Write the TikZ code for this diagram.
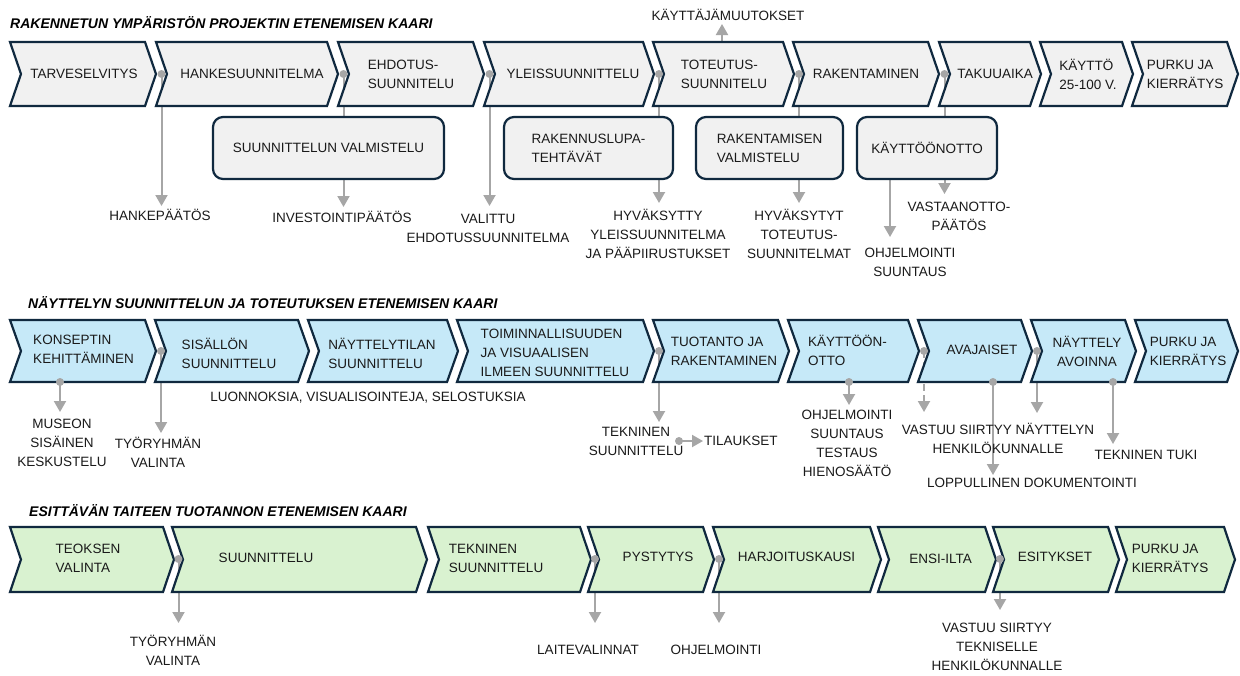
\documentclass[tikz,border=0pt]{standalone}
\usepackage{fontspec}
\setmainfont{Liberation Sans}
\usetikzlibrary{arrows.meta}
\definecolor{chevline}{HTML}{10293F}
\definecolor{rowA}{HTML}{F1F1F1}
\definecolor{rowB}{HTML}{C6E9F8}
\definecolor{rowC}{HTML}{D9F2D0}
\definecolor{conngray}{HTML}{A6A6A6}
\definecolor{txt}{HTML}{1A1A1A}
\newcommand{\chevshape}[5]{%
  \pgfmathsetmacro{\cym}{(#3+#4)/2}%
  \pgfmathsetmacro{\cxa}{#1+11}%
  \pgfmathsetmacro{\cxb}{#2+11}%
  \filldraw[chev,fill=#5] (#1,#3) -- (#2,#3) -- (\cxb,\cym) -- (#2,#4) -- (#1,#4) -- (\cxa,\cym) -- cycle;}
\begin{document}
\begin{tikzpicture}[x=1pt,y=-1pt,
  chev/.style={draw=chevline, line width=2.2pt, line join=miter},
  lbl/.style={font=\fontsize{13.5}{19}\selectfont, text=txt, align=center, inner sep=0pt},
  lbll/.style={lbl, align=left},
  ttl/.style={font=\fontsize{14}{17}\selectfont\bfseries\itshape, text=black, anchor=base west, inner sep=0pt},
  rbox/.style={draw=chevline, line width=2.2pt, fill=rowA, rounded corners=10pt, lbll, minimum height=62pt},
  conn/.style={draw=conngray, line width=2pt, -{Triangle[width=12pt,length=11pt]}},
  connd/.style={conn, dash pattern=on 7pt off 4pt},
  dotfill/.style={fill=conngray}]
\fill[white] (0,0) rectangle (1240,675);
\useasboundingbox (0,0) rectangle (1240,675);

% ---------- titles ----------
\node[ttl] (t1) at (10,28) {RAKENNETUN YMPÄRISTÖN PROJEKTIN ETENEMISEN KAARI};
\node[ttl] (t2) at (28,308) {NÄYTTELYN SUUNNITTELUN JA TOTEUTUKSEN ETENEMISEN KAARI};
\node[ttl] (t3) at (29,516) {ESITTÄVÄN TAITEEN TUOTANNON ETENEMISEN KAARI};

% ---------- coordinates (dots and arrow tips) ----------
\coordinate (a1) at (161.5,74);  \coordinate (a1t) at (161.5,206);
\coordinate (a2) at (343.5,74);  \coordinate (a2t) at (343.5,207);
\coordinate (a3) at (489.5,74);  \coordinate (a3t) at (489.5,206);
\coordinate (a4) at (659,74);    \coordinate (a4t) at (659,203);
\coordinate (a5) at (799,74);    \coordinate (a5t) at (799,203);
\coordinate (a6) at (944.5,74);  \coordinate (a6t) at (944.5,194);
\coordinate (a7) at (890,179);   \coordinate (a7t) at (890,237);
\coordinate (a8) at (722,42);    \coordinate (a8t) at (722,24);

\coordinate (b1) at (60,382);    \coordinate (b1t) at (60,412);
\coordinate (b2) at (161,351);   \coordinate (b2t) at (161,433);
\coordinate (b3) at (659,351);   \coordinate (b3t) at (659,422);
\coordinate (b4) at (679,441);   \coordinate (b4t) at (703,441);
\coordinate (b5) at (849,382);   \coordinate (b5t) at (849,405);
\coordinate (b6) at (924,351);   \coordinate (b6t) at (924,412);
\coordinate (b7) at (993,382);   \coordinate (b7t) at (993,475);
\coordinate (b8) at (1037,351);  \coordinate (b8t) at (1037,413);
\coordinate (b9) at (1113,382);  \coordinate (b9t) at (1113,444);

\coordinate (c1) at (178.5,559); \coordinate (c1t) at (178.5,623);
\coordinate (c2) at (595,559);   \coordinate (c2t) at (595,623);
\coordinate (c3) at (719,559);   \coordinate (c3t) at (719,623);
\coordinate (c4) at (1000,559);  \coordinate (c4t) at (1000,610);

% ---------- connectors (behind shapes) ----------
\foreach \p in {a1,a2,a3,a4,a5,a6,a7,a8,b1,b2,b3,b4,b5,b7,b8,b9,c1,c2,c3,c4}
  \draw[conn] (\p) -- (\p t);
\draw[connd] (b6) -- (b6t);

% ---------- row 1 ----------
\chevshape{10}{145}{42}{106}{rowA}
\chevshape{156}{327}{42}{106}{rowA}
\chevshape{338}{473}{42}{106}{rowA}
\chevshape{484}{643}{42}{106}{rowA}
\chevshape{653}{783}{42}{106}{rowA}
\chevshape{793}{928}{42}{106}{rowA}
\chevshape{939}{1030}{42}{106}{rowA}
\chevshape{1040}{1122}{42}{106}{rowA}
\chevshape{1132}{1227}{42}{106}{rowA}
\node[lbl]  (r1n1) at (84,74) {TARVESELVITYS};
\node[lbl]  (r1n2) at (252,74) {HANKESUUNNITELMA};
\node[lbll] (r1n3) at (411,74) {EHDOTUS-\\SUUNNITELU};
\node[lbl]  (r1n4) at (573,74) {YLEISSUUNNITTELU};
\node[lbll] (r1n5) at (724,74) {TOTEUTUS-\\SUUNNITELU};
\node[lbl]  (r1n6) at (866,74) {RAKENTAMINEN};
\node[lbl]  (r1n7) at (995,74) {TAKUUAIKA};
\node[lbll] (r1n8) at (1088,74) {KÄYTTÖ\\25-100 V.};
\node[lbll] (r1n9) at (1185,74) {PURKU JA\\KIERRÄTYS};

\node[rbox, minimum width=231pt] (bx1) at (328.5,148) {SUUNNITTELUN VALMISTELU};
\node[rbox, minimum width=169pt] (bx2) at (588.5,148) {RAKENNUSLUPA-\\TEHTÄVÄT};
\node[rbox, minimum width=147pt] (bx3) at (769.5,148) {RAKENTAMISEN\\VALMISTELU};
\node[rbox, minimum width=140pt] (bx4) at (927,148) {KÄYTTÖÖNOTTO};

\node[lbl] (l1) at (160,215) {HANKEPÄÄTÖS};
\node[lbl] (l2) at (342,217) {INVESTOINTIPÄÄTÖS};
\node[lbl] (l3) at (488,228) {VALITTU\\EHDOTUSSUUNNITELMA};
\node[lbl] (l4) at (658,234) {HYVÄKSYTTY\\YLEISSUUNNITELMA\\JA PÄÄPIIRUSTUKSET};
\node[lbl] (l5) at (799,234) {HYVÄKSYTYT\\TOTEUTUS-\\SUUNNITELMAT};
\node[lbl] (l6) at (959,216.5) {VASTAANOTTO-\\PÄÄTÖS};
\node[lbl] (l7) at (910,262.5) {OHJELMOINTI\\SUUNTAUS};
\node[lbl] (l8) at (728,15) {KÄYTTÄJÄMUUTOKSET};

% ---------- row 2 ----------
\chevshape{10}{145}{320}{382}{rowB}
\chevshape{155}{298}{320}{382}{rowB}
\chevshape{308}{447}{320}{382}{rowB}
\chevshape{457}{643}{320}{382}{rowB}
\chevshape{653}{778}{320}{382}{rowB}
\chevshape{788}{908}{320}{382}{rowB}
\chevshape{918}{1021}{320}{382}{rowB}
\chevshape{1031}{1125}{320}{382}{rowB}
\chevshape{1135}{1227}{320}{382}{rowB}
\node[lbll] (r2n1) at (83.5,349) {KONSEPTIN\\KEHITTÄMINEN};
\node[lbll] (r2n2) at (229,353) {SISÄLLÖN\\SUUNNITTELU};
\node[lbll] (r2n3) at (382,353) {NÄYTTELYTILAN\\SUUNNITTELU};
\node[lbll] (r2n4) at (555,352.5) {TOIMINNALLISUUDEN\\JA VISUAALISEN\\ILMEEN SUUNNITTELU};
\node[lbll] (r2n5) at (724,351) {TUOTANTO JA\\RAKENTAMINEN};
\node[lbll] (r2n6) at (847.5,350.5) {KÄYTTÖÖN-\\OTTO};
\node[lbl]  (r2n7) at (982,350) {AVAJAISET};
\node[lbl]  (r2n8) at (1087,351) {NÄYTTELY\\AVOINNA};
\node[lbll] (r2n9) at (1188,351) {PURKU JA\\KIERRÄTYS};

\node[lbl] (m1) at (62,443) {MUSEON\\SISÄINEN\\KESKUSTELU};
\node[lbl] (m2) at (158,452.5) {TYÖRYHMÄN\\VALINTA};
\node[lbl] (m3) at (368,398) {LUONNOKSIA, VISUALISOINTEJA, SELOSTUKSIA};
\node[lbl] (m4) at (636,441) {TEKNINEN\\SUUNNITTELU};
\node[lbl, anchor=west] (m5) at (704,441) {TILAUKSET};
\node[lbl] (m6) at (847,443.5) {OHJELMOINTI\\SUUNTAUS\\TESTAUS\\HIENOSÄÄTÖ};
\node[lbl] (m7) at (998,438) {VASTUU SIIRTYY NÄYTTELYN\\HENKILÖKUNNALLE};
\node[lbl] (m8) at (1032,483) {LOPPULLINEN DOKUMENTOINTI};
\node[lbl] (m9) at (1146,455) {TEKNINEN TUKI};

% ---------- row 3 ----------
\chevshape{10}{163}{527}{592}{rowC}
\chevshape{172}{416}{527}{592}{rowC}
\chevshape{428}{580}{527}{592}{rowC}
\chevshape{588}{703}{527}{592}{rowC}
\chevshape{713}{870}{527}{592}{rowC}
\chevshape{878}{985}{527}{592}{rowC}
\chevshape{993}{1108}{527}{592}{rowC}
\chevshape{1116}{1224}{527}{592}{rowC}
\node[lbll] (r3n1) at (88,558.5) {TEOKSEN\\VALINTA};
\node[lbl]  (r3n2) at (266,558) {SUUNNITTELU};
\node[lbll] (r3n3) at (496,558) {TEKNINEN\\SUUNNITTELU};
\node[lbl]  (r3n4) at (658,557) {PYSTYTYS};
\node[lbl]  (r3n5) at (796.5,557) {HARJOITUSKAUSI};
\node[lbl]  (r3n6) at (940.5,559) {ENSI-ILTA};
\node[lbl]  (r3n7) at (1055,557) {ESITYKSET};
\node[lbll] (r3n8) at (1170,558) {PURKU JA\\KIERRÄTYS};

\node[lbl] (n1) at (173,650.5) {TYÖRYHMÄN\\VALINTA};
\node[lbl] (n2) at (588,650) {LAITEVALINNAT};
\node[lbl] (n3) at (716,650) {OHJELMOINTI};
\node[lbl] (n4) at (997,646.5) {VASTUU SIIRTYY\\TEKNISELLE\\HENKILÖKUNNALLE};

% ---------- dots on top ----------
\foreach \p in {a1,a2,a3,a4,a5,a6,b1,b2,b3,b4,b5,b6,b7,b8,b9,c1,c2,c3,c4}
  \fill[dotfill] (\p) circle (4pt);
\end{tikzpicture}
\end{document}
